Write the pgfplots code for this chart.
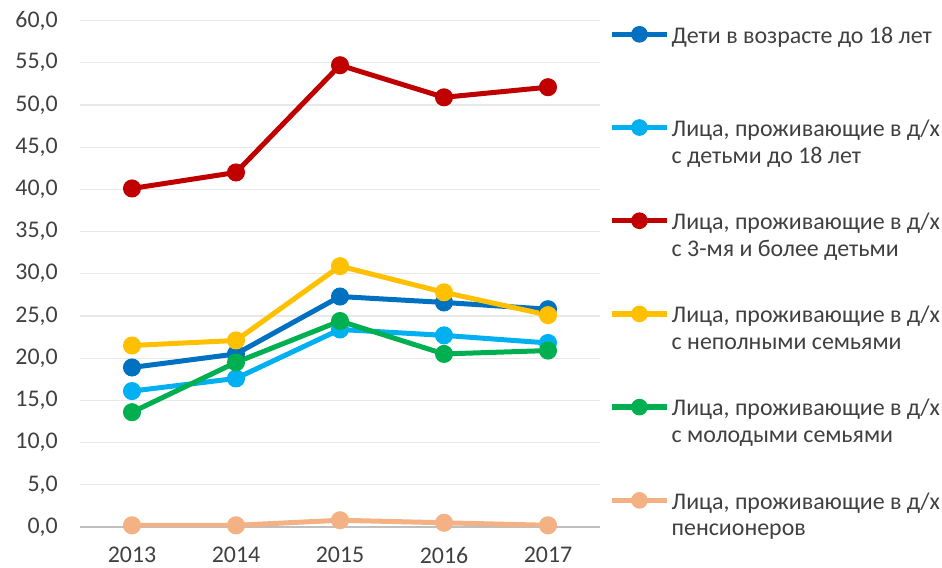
\documentclass[border=0pt]{standalone}
\usepackage{fontspec}
\setmainfont{Carlito}
\usepackage{pgfplots}
\pgfplotsset{compat=1.18}
\definecolor{cDB}{HTML}{0070C0}
\definecolor{cLB}{HTML}{00B0F0}
\definecolor{cRD}{HTML}{C00000}
\definecolor{cYL}{HTML}{FFC000}
\definecolor{cGR}{HTML}{00B050}
\definecolor{cOR}{HTML}{F4B183}
\definecolor{cTX}{HTML}{404040}
\begin{document}
\begin{tikzpicture}
\begin{axis}[
  scale only axis, width=520bp, height=506.5bp,
  xmin=-0.5, xmax=4.5, ymin=0, ymax=60,
  xtick={0,1,2,3,4}, xticklabels={2013,2014,2015,2016,2017},
  ytick={0,5,...,60},
  ymajorgrids, grid style={line width=1.2bp, draw=black!9},
  axis x line*=bottom, axis y line*=left,
  y axis line style={draw=none},
  x axis line style={draw=black!25, line width=1.2bp},
  major tick length=0pt,
  tick label style={font=\fontsize{24}{27}\selectfont, text=cTX, inner sep=0pt},
  yticklabel style={anchor=east, xshift=-22bp},
  xticklabel style={anchor=north, yshift=-20bp},
  /pgf/number format/assume math mode=true,
  /pgf/number format/fixed,
  /pgf/number format/fixed zerofill,
  /pgf/number format/precision=1,
  /pgf/number format/use comma,
  every axis plot/.append style={line width=5bp, mark=*, mark size=6.5bp},
  legend style={at={(rel axis cs:1,1)}, anchor=north west, xshift=9bp, yshift=-1.5bp,
    draw=none, fill=none, inner sep=0pt, row sep=42bp,
    font=\fontsize{24}{27}\selectfont, text=cTX,
    cells={align=left, inner ysep=2bp, inner xsep=0bp}},
  legend cell align=left,
  legend image code/.code={
    \draw[#1, line width=5.5bp, mark=none] (0bp,13.5bp) -- (55bp,13.5bp);
    \fill[#1] (27.5bp,13.5bp) circle (5.8bp);
  },
]
\addplot[cDB, mark options={fill=cDB, draw=cDB}] coordinates {(0,18.9) (1,20.5) (2,27.3) (3,26.6) (4,25.8)};
\addlegendentry{\strut Дети в возрасте до 18 лет\\\strut}
\addplot[cLB, mark options={fill=cLB, draw=cLB}] coordinates {(0,16.1) (1,17.6) (2,23.4) (3,22.7) (4,21.8)};
\addlegendentry{\strut Лица, проживающие в д/х\\\strut с детьми до 18 лет}
\addplot[cRD, mark options={fill=cRD, draw=cRD}] coordinates {(0,40.1) (1,42.0) (2,54.7) (3,50.9) (4,52.1)};
\addlegendentry{\strut Лица, проживающие в д/х\\\strut с 3-мя и более детьми}
\addplot[cYL, mark options={fill=cYL, draw=cYL}] coordinates {(0,21.5) (1,22.1) (2,30.9) (3,27.8) (4,25.1)};
\addlegendentry{\strut Лица, проживающие в д/х\\\strut с неполными семьями}
\addplot[cGR, mark options={fill=cGR, draw=cGR}] coordinates {(0,13.6) (1,19.5) (2,24.4) (3,20.5) (4,20.9)};
\addlegendentry{\strut Лица, проживающие в д/х\\\strut с молодыми семьями}
\addplot[cOR, mark options={fill=cOR, draw=cOR}] coordinates {(0,0.2) (1,0.2) (2,0.8) (3,0.5) (4,0.2)};
\addlegendentry{\strut Лица, проживающие в д/х\\\strut пенсионеров}
\coordinate (SW) at (rel axis cs:0,0);
\end{axis}
\useasboundingbox ([shift={(-80bp,-41bp)}]SW) rectangle ([shift={(862bp,527bp)}]SW);
\end{tikzpicture}
\end{document}
